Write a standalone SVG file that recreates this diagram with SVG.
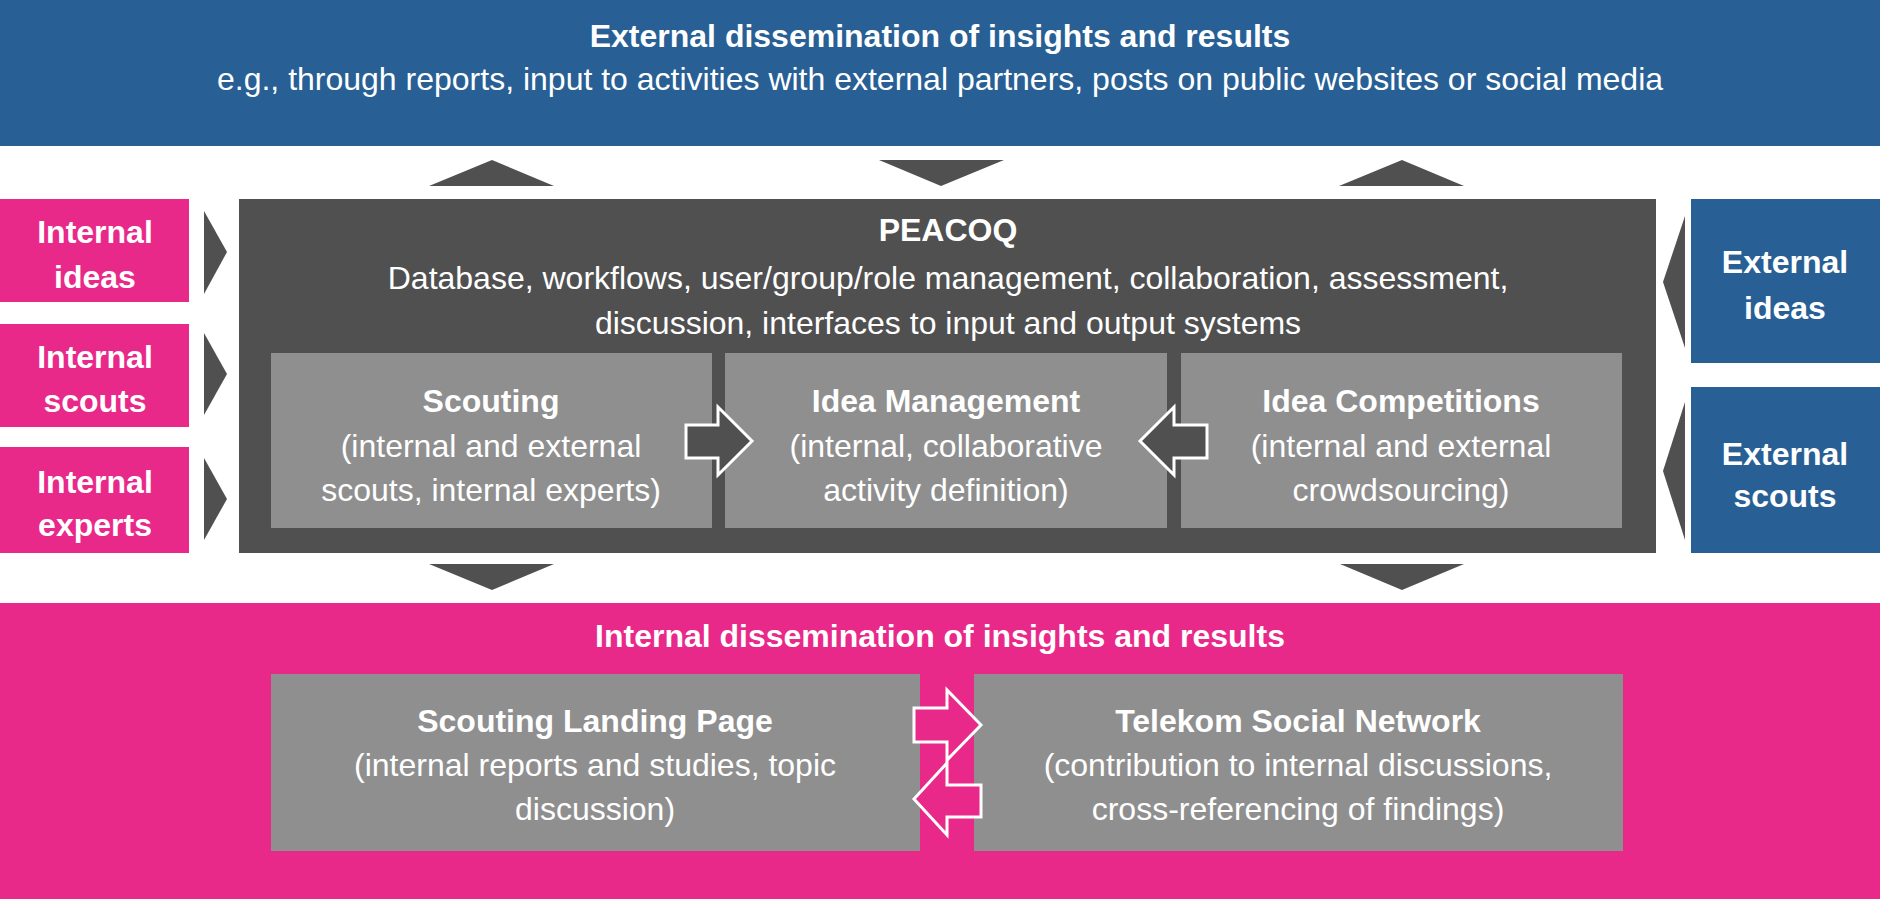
<svg xmlns="http://www.w3.org/2000/svg" width="1880" height="899" viewBox="0 0 1880 899">
<style>
text{font-family:"Liberation Sans",Arial,sans-serif;font-size:32px;fill:#fff;text-anchor:middle}
.b{font-weight:bold}
.tri{fill:#505050}
.dark{fill:#505050}
.lt{fill:#8f8f8f}
.pk{fill:#e8298a}
.bl{fill:#285f94}
.da{fill:#505050;stroke:#fff;stroke-width:3}
.pa{fill:#e8298a;stroke:#fff;stroke-width:3}
</style>
<rect width="1880" height="899" fill="#fff"/>
<g id="external-dissemination">
<rect class="bl" x="0" y="0" width="1880" height="146"/>
<text class="b" x="940" y="47">External dissemination of insights and results</text>
<text x="940" y="90">e.g., through reports, input to activities with external partners, posts on public websites or social media</text>
</g>
<g id="internal-dissemination">
<rect class="pk" x="0" y="603" width="1880" height="296"/>
<text class="b" x="940" y="647">Internal dissemination of insights and results</text>
</g>
<g id="peacoq">
<rect class="dark" x="239" y="199" width="1417" height="354"/>
<text class="b" x="948" y="241">PEACOQ</text>
<text x="948" y="289">Database, workflows, user/group/role management, collaboration, assessment,</text>
<text x="948" y="334">discussion, interfaces to input and output systems</text>
</g>
<g id="scouting">
<rect class="lt" x="271" y="353" width="441" height="175"/>
<text class="b" x="491" y="412">Scouting</text>
<text x="491" y="457">(internal and external</text>
<text x="491" y="501">scouts, internal experts)</text>
</g>
<g id="idea-management">
<rect class="lt" x="725" y="353" width="442" height="175"/>
<text class="b" x="946" y="412">Idea Management</text>
<text x="946" y="457">(internal, collaborative</text>
<text x="946" y="501">activity definition)</text>
</g>
<g id="idea-competitions">
<rect class="lt" x="1181" y="353" width="441" height="175"/>
<text class="b" x="1401" y="412">Idea Competitions</text>
<text x="1401" y="457">(internal and external</text>
<text x="1401" y="501">crowdsourcing)</text>
</g>
<g id="internal-ideas">
<rect class="pk" x="0" y="199" width="189" height="103"/>
<text class="b" x="95" y="243">Internal</text>
<text class="b" x="95" y="288">ideas</text>
</g>
<g id="internal-scouts">
<rect class="pk" x="0" y="324" width="189" height="103"/>
<text class="b" x="95" y="368">Internal</text>
<text class="b" x="95" y="412">scouts</text>
</g>
<g id="internal-experts">
<rect class="pk" x="0" y="447" width="189" height="106"/>
<text class="b" x="95" y="493">Internal</text>
<text class="b" x="95" y="536">experts</text>
</g>
<g id="external-ideas">
<rect class="bl" x="1691" y="199" width="189" height="164"/>
<text class="b" x="1785" y="273">External</text>
<text class="b" x="1785" y="319">ideas</text>
</g>
<g id="external-scouts">
<rect class="bl" x="1691" y="387" width="189" height="166"/>
<text class="b" x="1785" y="465">External</text>
<text class="b" x="1785" y="507">scouts</text>
</g>
<g id="scouting-landing-page">
<rect class="lt" x="271" y="674" width="649" height="177"/>
<text class="b" x="595" y="732">Scouting Landing Page</text>
<text x="595" y="776">(internal reports and studies, topic</text>
<text x="595" y="820">discussion)</text>
</g>
<g id="telekom-social-network">
<rect class="lt" x="974" y="674" width="649" height="177"/>
<text class="b" x="1298" y="732">Telekom Social Network</text>
<text x="1298" y="776">(contribution to internal discussions,</text>
<text x="1298" y="820">cross-referencing of findings)</text>
</g>
<g id="connectors">
<polygon class="tri" points="429,186 554,186 492,160"/>
<polygon class="tri" points="879,160 1004,160 941,186"/>
<polygon class="tri" points="1339,186 1464,186 1402,160"/>
<polygon class="tri" points="429,564 554,564 492,590"/>
<polygon class="tri" points="1340,564 1464,564 1402,590"/>
<polygon class="tri" points="204,211 227,252 204,294"/>
<polygon class="tri" points="204,333 227,374 204,415"/>
<polygon class="tri" points="204,458 227,499 204,540"/>
<polygon class="tri" points="1685,216 1663,282 1685,348"/>
<polygon class="tri" points="1685,402 1663,471 1685,540"/>
<polygon class="da" points="686,425 718,425 718,407 752,441 718,475 718,458 686,458"/>
<polygon class="da" points="1207,425 1174,425 1174,407 1140,441 1174,475 1174,458 1207,458"/>
<polygon class="pa" points="914,708 947,708 947,690 981,725 947,760 947,742 914,742"/>
<polygon class="pa" points="981,785 947,785 947,763 914,799 947,835 947,817 981,817"/>
</g>
</svg>
